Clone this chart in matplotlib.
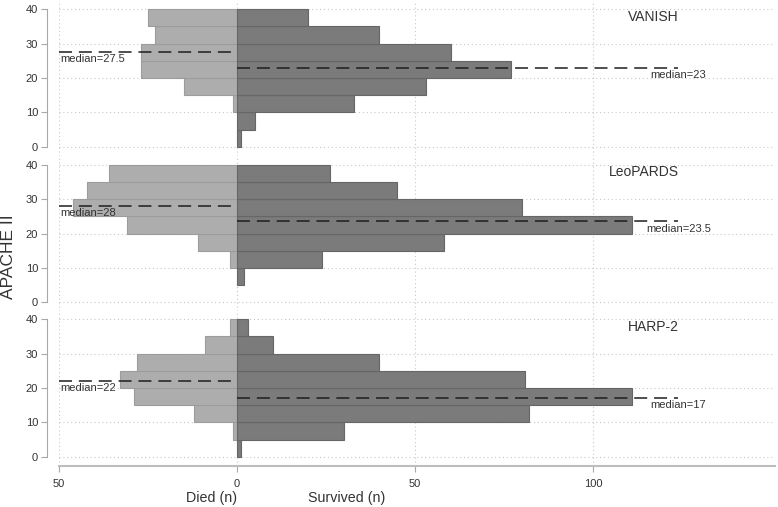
import numpy as np
import matplotlib
matplotlib.use("Agg")
import matplotlib.pyplot as plt

plt.rcParams['font.family'] = ['Liberation Sans', 'DejaVu Sans']

# 5-point APACHE II bins (lower edges), counts
bins = [0, 5, 10, 15, 20, 25, 30, 35]
trials = ['VANISH', 'LeoPARDS', 'HARP-2']

died = {
    'VANISH':   [0, 0, 1, 15, 27, 27, 23, 25],
    'LeoPARDS': [0, 0, 2, 11, 31, 46, 42, 36],
    'HARP-2':   [0, 1, 12, 29, 33, 28, 9, 2],
}
survived = {
    'VANISH':   [1, 5, 33, 53, 77, 60, 40, 20],
    'LeoPARDS': [0, 2, 24, 58, 111, 80, 45, 26],
    'HARP-2':   [1, 30, 82, 111, 81, 40, 10, 3],
}
median_died = {'VANISH': 27.5, 'LeoPARDS': 28, 'HARP-2': 22}
median_surv = {'VANISH': 23, 'LeoPARDS': 23.5, 'HARP-2': 17}
median_died_txt = {'VANISH': '27.5', 'LeoPARDS': '28', 'HARP-2': '22'}
median_surv_txt = {'VANISH': '23', 'LeoPARDS': '23.5', 'HARP-2': '17'}

xticks = [-50, 0, 50, 100]
yticks = [0, 10, 20, 30, 40]

W, H = 778, 507
fig = plt.figure(figsize=(W / 100, H / 100), dpi=100)

light = '#adadad'
dark = '#7b7b7b'
axcol = '#a8a8a8'
txtcol = '#333333'


def nonzero(b, v):
    pairs = [(y, n) for y, n in zip(b, v) if n != 0]
    return [p[0] for p in pairs], [p[1] for p in pairs]


tops = [0.5, 156, 310.5]
ph = 155
for i, name in enumerate(trials):
    ax = fig.add_axes([59 / W, 1 - (tops[i] + ph) / H, 715.6 / W, ph / H])
    ax.set_xlim(-50, 151)
    ax.set_ylim(-2.5, 42.5)
    ax.set_axisbelow(True)

    yd, nd = nonzero(bins, died[name])
    ys, ns = nonzero(bins, survived[name])
    ax.barh(yd, [-d for d in nd], height=5, align='edge',
            color=light, edgecolor='#9c9c9c', linewidth=0.8, zorder=2)
    ax.barh(ys, ns, height=5, align='edge',
            color=dark, edgecolor='#666666', linewidth=0.8, zorder=2)

    # medians
    ax.hlines(median_died[name], -50, 0, colors='#1e1e1e', linewidth=1.1,
              linestyles=(0, (8.5, 4.5)), zorder=3)
    ax.hlines(median_surv[name], 0, 124, colors='#1e1e1e', linewidth=1.1,
              linestyles=(0, (8.5, 4.5)), zorder=3)
    ax.text(-49.5, median_died[name] - 0.6, 'median=' + median_died_txt[name],
            ha='left', va='top', fontsize=8, color=txtcol, zorder=4)
    ax.text(124, median_surv[name] - 0.6, 'median=' + median_surv_txt[name],
            ha='center', va='top', fontsize=8, color=txtcol, zorder=4)

    ax.text(124, 37.8, name, ha='right', va='center', fontsize=10, color=txtcol)

    ax.set_xticks(xticks)
    ax.set_yticks(yticks)
    ax.grid(True, linestyle=(0, (1, 2.5)), color='#c8c8c8', linewidth=0.8)

    for s in ['top', 'right']:
        ax.spines[s].set_visible(False)
    ax.spines['left'].set_position(('outward', 9))
    ax.spines['left'].set_bounds(0, 40)
    ax.spines['left'].set_color(axcol)
    ax.tick_params(axis='y', colors=axcol, labelcolor=txtcol, labelsize=8,
                   length=4, width=0.8, pad=2)

    if i < 2:
        ax.spines['bottom'].set_visible(False)
        ax.tick_params(axis='x', length=0, labelbottom=False)
    else:
        ax.spines['bottom'].set_color('#bdbdbd')
        ax.spines['bottom'].set_linewidth(1.5)
        ax.set_xticklabels([str(abs(t)) for t in xticks])
        ax.tick_params(axis='x', colors=axcol, labelcolor=txtcol, labelsize=8,
                       length=4, width=0.8, pad=6)

fig.text(9 / W, 1 - 257 / H, 'APACHE II', rotation=90, ha='center', va='center',
         fontsize=12.5, color=txtcol)
fig.text(212 / W, 1 - 498 / H, 'Died (n)', ha='center', va='center',
         fontsize=10.3, color=txtcol)
fig.text(347 / W, 1 - 498 / H, 'Survived (n)', ha='center', va='center',
         fontsize=10.3, color=txtcol)

fig.savefig('out.png', dpi=100, facecolor='white')
